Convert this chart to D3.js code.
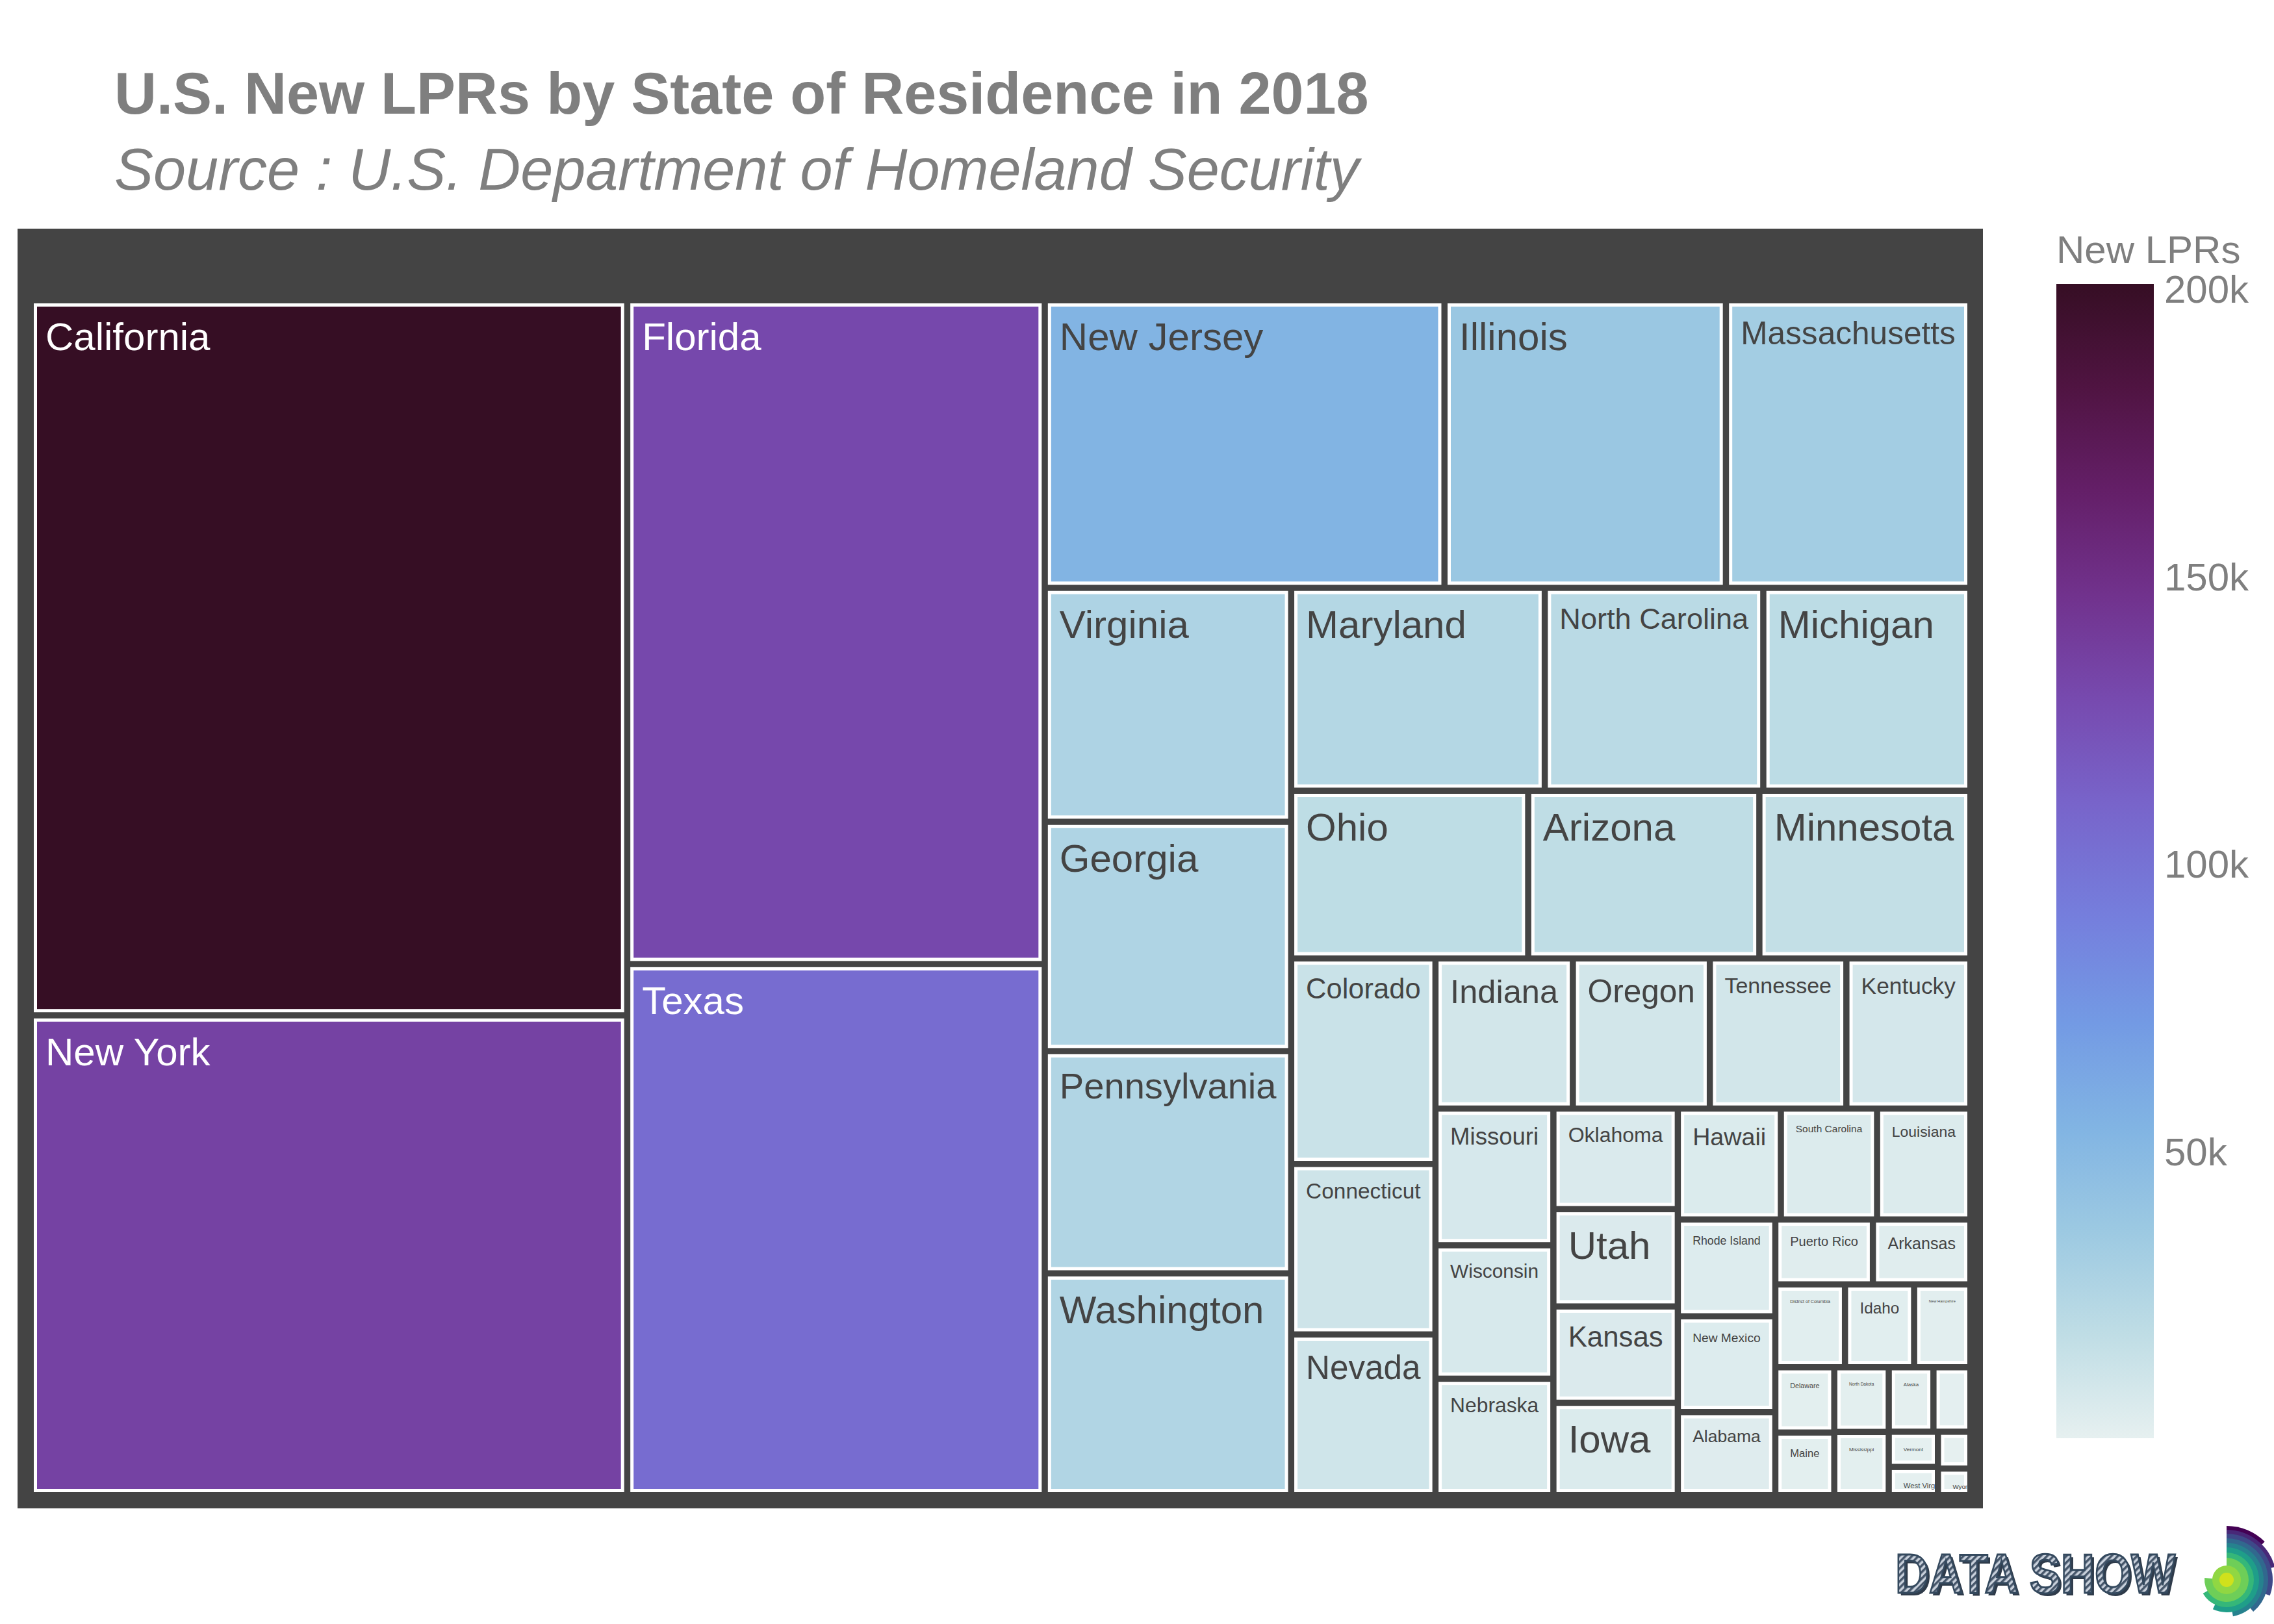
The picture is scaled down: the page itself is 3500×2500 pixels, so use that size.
<!DOCTYPE html>
<html>
<head>
<meta charset="utf-8">
<script src="https://d3js.org/d3.v7.min.js"></script>
<style>
  body { margin: 0; background: #fff; }
  svg { display: block; font-family: "Liberation Sans", Arial, sans-serif; }
</style>
</head>
<body>
<svg id="chart"></svg>
<script>
var width = 3500, height = 2500;

// data (2018 new LPRs)
var states = ["California", "New York", "Florida", "Texas", "New Jersey", "Illinois", "Massachusetts",
  "Virginia", "Georgia", "Pennsylvania", "Washington", "Maryland", "North Carolina", "Michigan",
  "Ohio", "Arizona", "Minnesota", "Colorado", "Connecticut", "Nevada", "Indiana", "Oregon",
  "Tennessee", "Kentucky", "Missouri", "Wisconsin", "Nebraska", "Oklahoma", "Utah", "Kansas",
  "Iowa", "Hawaii", "South Carolina", "Louisiana", "Rhode Island", "New Mexico", "Alabama",
  "Puerto Rico", "Arkansas", "District of Columbia", "Idaho", "New Hampshire", "Delaware",
  "Maine", "North Dakota", "Mississippi", "Alaska", "South Dakota", "Vermont", "West Virginia",
  "Montana", "Wyoming"];
var newLPRs = [201000, 134900, 130600, 104500, 54160, 38140, 33130,
  27160, 26630, 25800, 25760, 24240, 20890, 19800,
  18730, 18270, 16680, 13970, 11590, 10930, 9720, 9690,
  9660, 8775, 7596, 7416, 6475, 5897, 5706, 5648,
  5419, 5385, 5028, 4877, 4450, 4400, 3820,
  2985, 2983, 2720, 2700, 2198, 1814,
  1741, 1659, 1625, 1357, 1123, 816, 656,
  564, 408];

// plotly "dense" colour scale
var denseColors = ["rgb(230,240,240)", "rgb(191,221,229)", "rgb(156,201,226)", "rgb(129,180,227)",
  "rgb(115,154,228)", "rgb(117,127,221)", "rgb(120,100,202)", "rgb(119,74,175)",
  "rgb(113,50,141)", "rgb(100,31,104)", "rgb(80,20,66)", "rgb(54,14,36)"];
var denseStops = [0, 0.09, 0.18, 0.27, 0.36, 0.45, 0.55, 0.64, 0.73, 0.82, 0.91, 1];
var colorTicks = [50000, 100000, 150000, 200000];
var colorTickLabels = ["50k", "100k", "150k", "200k"];

var titleText = "U.S. New LPRs by State of Residence in 2018";
var subtitleText = "Source : U.S. Department of Homeland Security";
var colorbarTitle = "New LPRs";

var svg = d3.select("#chart").attr("width", width).attr("height", height);
var defs = svg.append("defs");

// titles
svg.append("text").attr("x", 176).attr("y", 175)
  .style("font-size", "90px").style("font-weight", "bold").style("fill", "#7f7f7f")
  .text(titleText);
svg.append("text").attr("x", 176).attr("y", 292)
  .style("font-size", "90px").style("font-style", "italic").style("fill", "#7f7f7f")
  .text(subtitleText);

// colour mapping
var cmin = d3.min(newLPRs), cmax = d3.max(newLPRs);
var color = d3.scaleLinear()
  .domain(denseStops.map(function(s) { return cmin + s * (cmax - cmin); }))
  .range(denseColors)
  .interpolate(d3.interpolateRgb);

function isLight(c) {
  var rgb = d3.rgb(c);
  return (rgb.r * 299 + rgb.g * 587 + rgb.b * 114) / 1000 >= 128;
}

// root box (dark) and treemap
var rootBox = {x0: 27, y0: 352, x1: 3052, y1: 2322};
var inner = {x0: 52, y0: 467, x1: 3028, y1: 2297};
var gap = 9.5;

svg.append("rect")
  .attr("x", rootBox.x0).attr("y", rootBox.y0)
  .attr("width", rootBox.x1 - rootBox.x0).attr("height", rootBox.y1 - rootBox.y0)
  .style("fill", "#444444");

var data = {name: "", children: states.map(function(s, i) { return {name: s, value: newLPRs[i]}; })};
var root = d3.hierarchy(data)
  .sum(function(d) { return d.value || 0; })
  .sort(function(a, b) { return b.value - a.value; });

d3.treemap()
  .size([inner.x1 - inner.x0, inner.y1 - inner.y0])
  .paddingInner(gap)
  .tile(d3.treemapSquarify.ratio(1))(root);

var gTiles = svg.append("g").attr("transform", "translate(" + inner.x0 + "," + inner.y0 + ")");

// text width measurer
var measure = svg.append("text").style("font-size", "100px").attr("x", -9999).attr("y", -9999);
function emWidth(str) {
  measure.text(str);
  return measure.node().getComputedTextLength() / 100;
}

var pad = 18, maxFont = 60;

root.leaves().forEach(function(d, i) {
  var w = d.x1 - d.x0, h = d.y1 - d.y0;
  var fill = color(d.value);
  var g = gTiles.append("g").attr("transform", "translate(" + d.x0 + "," + d.y0 + ")");

  defs.append("clipPath").attr("id", "clip" + i)
    .append("rect").attr("width", w).attr("height", h);

  g.append("rect")
    .attr("x", 2.5).attr("y", 2.5)
    .attr("width", Math.max(0, w - 5)).attr("height", Math.max(0, h - 5))
    .style("fill", fill)
    .style("stroke", "#ffffff")
    .style("stroke-width", 5);

  var em = emWidth(d.data.name);
  var fs;
  if (w - 2 * pad <= 0 || h - 2 * pad <= 0) {
    fs = Math.min(maxFont, w / em);
  } else {
    fs = Math.min(maxFont, (w - 2 * pad) / em);
    if (fs < 4) return;   // too small, plotly hides it
  }

  g.append("text")
    .attr("clip-path", "url(#clip" + i + ")")
    .attr("x", pad)
    .attr("y", pad + 0.9 * fs)
    .style("font-size", fs + "px")
    .style("fill", isLight(fill) ? "#444444" : "#ffffff")
    .text(d.data.name);
});
measure.remove();

// colour bar
var cb = {x: 3165, y0: 437, y1: 2214, w: 150};
var grad = defs.append("linearGradient").attr("id", "cbGrad")
  .attr("x1", 0).attr("y1", 1).attr("x2", 0).attr("y2", 0);
denseStops.forEach(function(s, i) {
  grad.append("stop").attr("offset", s).attr("stop-color", denseColors[i]);
});
svg.append("rect").attr("x", cb.x).attr("y", cb.y0)
  .attr("width", cb.w).attr("height", cb.y1 - cb.y0)
  .style("fill", "url(#cbGrad)");

var cbScale = d3.scaleLinear().domain([cmin, cmax]).range([cb.y1, cb.y0]);
var cbAxis = d3.axisRight(cbScale).tickValues(colorTicks)
  .tickFormat(function(v, i) { return colorTickLabels[i]; })
  .tickSize(0).tickPadding(16);
var gAxis = svg.append("g").attr("transform", "translate(" + (cb.x + cb.w) + ",0)").call(cbAxis);
gAxis.select(".domain").remove();
gAxis.selectAll("text")
  .style("font-size", "60px")
  .style("font-family", "\"Liberation Sans\", Arial, sans-serif")
  .style("fill", "#7f7f7f");

svg.append("text").attr("x", cb.x).attr("y", 405)
  .style("font-size", "60px").style("fill", "#7f7f7f")
  .text(colorbarTitle);

// logo
var pat = defs.append("pattern").attr("id", "hatch")
  .attr("width", 7).attr("height", 7)
  .attr("patternUnits", "userSpaceOnUse")
  .attr("patternTransform", "rotate(45)");
pat.append("rect").attr("width", 7).attr("height", 7).style("fill", "#c9d1dc");
pat.append("rect").attr("width", 3.5).attr("height", 7).style("fill", "#46566a");

svg.append("text").attr("x", 2921).attr("y", 2456)
  .attr("textLength", 431).attr("lengthAdjust", "spacingAndGlyphs")
  .style("font-size", "86px").style("font-weight", "bold").style("fill", "#2f3b4a")
  .text("DATA SHOW");
svg.append("text").attr("x", 2917).attr("y", 2452)
  .attr("textLength", 431).attr("lengthAdjust", "spacingAndGlyphs")
  .style("font-size", "86px").style("font-weight", "bold")
  .style("fill", "url(#hatch)").style("stroke", "#34495e").style("stroke-width", 3)
  .text("DATA SHOW");

var logoRings = [
  {r: 83, a: 45, c: "#440154"},
  {r: 77, a: 75, c: "#482878"},
  {r: 71, a: 110, c: "#3e4989"},
  {r: 64, a: 140, c: "#31688e"},
  {r: 57, a: 170, c: "#26828e"},
  {r: 50, a: 205, c: "#1f9e89"},
  {r: 42, a: 240, c: "#35b779"},
  {r: 34, a: 275, c: "#6ece58"},
  {r: 22, a: 360, c: "#90d743"},
  {r: 11, a: 360, c: "#d0e11c"}
];
var arc = d3.arc().innerRadius(0);
var gLogo = svg.append("g").attr("transform", "translate(3427,2432)");
logoRings.forEach(function(ring) {
  gLogo.append("path")
    .attr("d", arc({outerRadius: ring.r, startAngle: 0, endAngle: ring.a * Math.PI / 180}))
    .style("fill", ring.c);
});
</script>
</body>
</html>
